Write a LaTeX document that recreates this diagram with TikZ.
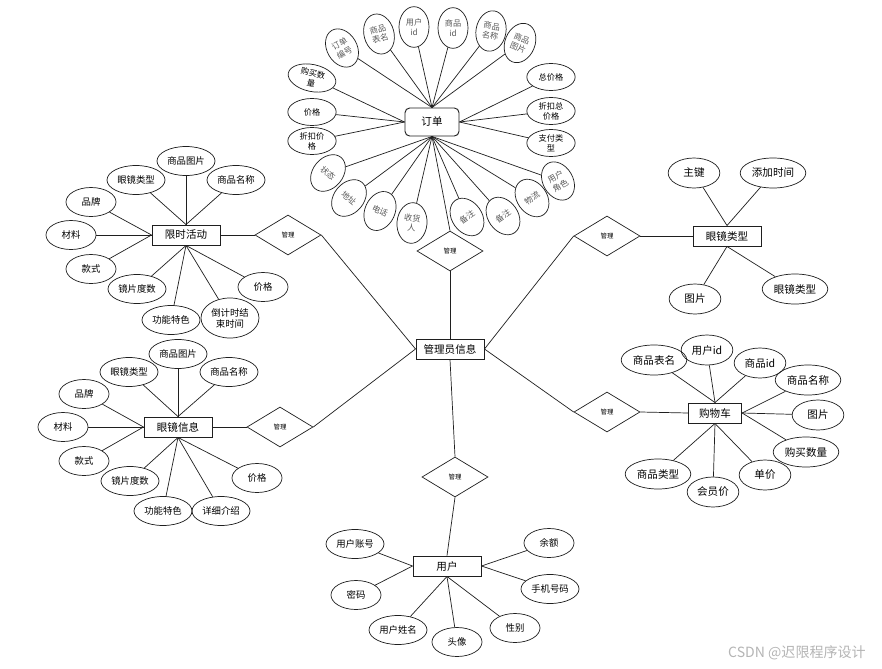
\documentclass[tikz,border=0pt]{standalone}
\usepackage{fontspec}
\setmainfont{Noto Sans CJK SC}
\usepackage{xcolor}
\usepackage{tikz}
\usetikzlibrary{shapes.geometric}
\definecolor{linec}{HTML}{1F1F1F}
\definecolor{softtxt}{HTML}{5A5A5A}
\definecolor{markc}{HTML}{B5B5B5}
\tikzset{
  ln/.style={linec,line width=0.6pt},
  ell/.style={ellipse,draw=linec,line width=0.6pt,align=center,inner ysep=0pt},
  attr/.style={ell,minimum width=1.5cm,minimum height=0.87cm,inner xsep=1.5pt,font=\fontsize{8}{9.5}\selectfont},
  attrb/.style={ell,minimum width=1.55cm,minimum height=0.9cm,inner xsep=1.8pt,font=\fontsize{9}{10.5}\selectfont},
  oattr/.style={ell,minimum width=0.9cm,minimum height=1.22cm,inner xsep=0pt,text=softtxt,font=\fontsize{7}{8.5}\selectfont},
  oattrh/.style={ell,minimum width=1.45cm,minimum height=0.81cm,inner xsep=0pt,font=\fontsize{7}{8.5}\selectfont},
  ent/.style={draw=linec,line width=0.8pt,fill=white,minimum width=2.04cm,minimum height=0.6cm,inner sep=0pt,font=\fontsize{9}{10}\selectfont},
  rel/.style={diamond,draw=linec,line width=0.6pt,minimum width=1.98cm,minimum height=1.2cm,inner sep=0pt,font=\fontsize{5.5}{6}\selectfont}
}
\begin{document}
\begin{tikzpicture}[x=0.03cm,y=-0.03cm]
\useasboundingbox[fill=white] (0,0) rectangle (882,669);
% entities and relations
\node[ent,rounded corners=4pt,minimum width=1.62cm,minimum height=0.84cm] (dd) at (432,122) {订单};
\node[ent] (gly) at (450,349) {管理员信息};
\node[ent] (xs) at (186,235) {限时活动};
\node[ent] (yj) at (178,427) {眼镜信息};
\node[ent] (lx) at (727,236) {眼镜类型};
\node[ent,minimum width=1.6cm] (gw) at (715,413) {购物车};
\node[ent] (yh) at (447,566) {用户};
\node[rel] (gl0) at (450,251) {管理};
\node[rel] (gl1) at (288,235) {管理};
\node[rel] (gl2) at (280,427) {管理};
\node[rel] (gl3) at (607,236) {管理};
\node[rel] (gl4) at (607,412) {管理};
\node[rel] (gl5) at (455,477) {管理};
\draw[ln] (dd.south) -- (gl0.north);
\draw[ln] (gl0.south) -- (gly.north);
\draw[ln] (xs.east) -- (gl1.west);
\draw[ln] (gl1.east) -- (gly.west);
\draw[ln] (yj.east) -- (gl2.west);
\draw[ln] (gl2.east) -- (gly.west);
\draw[ln] (gly.east) -- (gl3.west);
\draw[ln] (gl3.east) -- (lx.west);
\draw[ln] (gly.east) -- (gl4.west);
\draw[ln] (gl4.east) -- (gw.west);
\draw[ln] (gly.south) -- (gl5.north);
\draw[ln] (gl5.south) -- (yh.north);
% order attributes
\foreach \px/\py/\ang/\txt/\anc [count=\i] in {342/48/30/{订单\\编号}/north, 379/34/15/{商品\\表名}/north, 414/27/0/{用户\\id}/north, 453/28/0/{商品\\id}/north, 491/31/-10/{商品\\名称}/north, 520/43/-22/{商品\\图片}/north, 328/173/-40/状态/south, 349/198/-40/地址/south, 380/211/-25/电话/south, 412/223/-5/{收货\\人}/south, 467/217/35/备注/south, 503/216/35/备注/south, 532/198/35/物流/south, 558/181/30/{用户\\角色}/south}
  {\node[oattr,rotate=\ang] (dda\i) at (\px,\py) {\txt};
   \draw[ln] (dda\i) -- (dd.\anc);}
\foreach \px/\py/\ang/\txt/\anc [count=\i] in {312/78/-12/{购买数\\量}/west, 312/112/0/价格/west, 312/141/0/{折扣价\\格}/west, 551/77/0/总价格/east, 551/111/0/{折扣总\\价格}/east, 551/143/0/{支付类\\型}/east}
  {\node[oattrh,rotate=\ang] (ddb\i) at (\px,\py) {\txt};
   \draw[ln] (ddb\i) -- (dd.\anc);}
% flash sale
\foreach \px/\py/\txt/\anc [count=\i] in {186/161/商品图片/north, 136/180/眼镜类型/north, 236/180/商品名称/north, 91/202/品牌/west, 71/235/材料/west, 91/269/款式/west, 137/289/镜片度数/south, 171/320/功能特色/south, 263/287/价格/south}
  {\node[attr] (xsa\i) at (\px,\py) {\txt};
   \draw[ln] (xsa\i) -- (xs.\anc);}
\node[attr,minimum height=1.2cm] (xsa10) at (230,318) {倒计时结\\束时间};
\draw[ln] (xsa10) -- (xs.south);
% glasses info
\foreach \px/\py/\txt/\anc [count=\i] in {178/354/商品图片/north, 129/372/眼镜类型/north, 229/372/商品名称/north, 84/394/品牌/west, 63/427/材料/west, 84/461/款式/west, 130/481/镜片度数/south, 163/511/功能特色/south, 221/511/详细介绍/south, 257/478/价格/south}
  {\node[attr] (yja\i) at (\px,\py) {\txt};
   \draw[ln] (yja\i) -- (yj.\anc);}
% glasses type
\foreach \px/\py/\txt/\anc [count=\i] in {694/173/主键/north, 773/173/添加时间/north, 695/299/图片/south, 795/289/眼镜类型/south}
  {\node[attrb] (lxa\i) at (\px,\py) {\txt};
   \draw[ln] (lxa\i) -- (lx.\anc);}
% cart
\foreach \px/\py/\txt/\anc [count=\i] in {654/360/商品表名/north, 707/350/用户id/north, 760/363/商品id/north, 808/380/商品名称/east, 818/415/图片/east, 806/452/购买数量/east, 765/475/单价/south, 713/492/会员价/south, 658/474/商品类型/south}
  {\node[attrb] (gwa\i) at (\px,\py) {\txt};
   \draw[ln] (gwa\i) -- (gw.\anc);}
% user
\foreach \px/\py/\txt/\anc [count=\i] in {355/544/用户账号/west, 356/595/密码/west, 398/630/用户姓名/south, 457/642/头像/south, 515/628/性别/south, 549/543/余额/east, 550/589/手机号码/east}
  {\node[attr] (yha\i) at (\px,\py) {\txt};
   \draw[ln] (yha\i) -- (yh.\anc);}
\node[text=markc,font=\fontsize{12}{14}\selectfont] (wm) at (797,653) {CSDN @迟限程序设计};
\end{tikzpicture}
\end{document}
